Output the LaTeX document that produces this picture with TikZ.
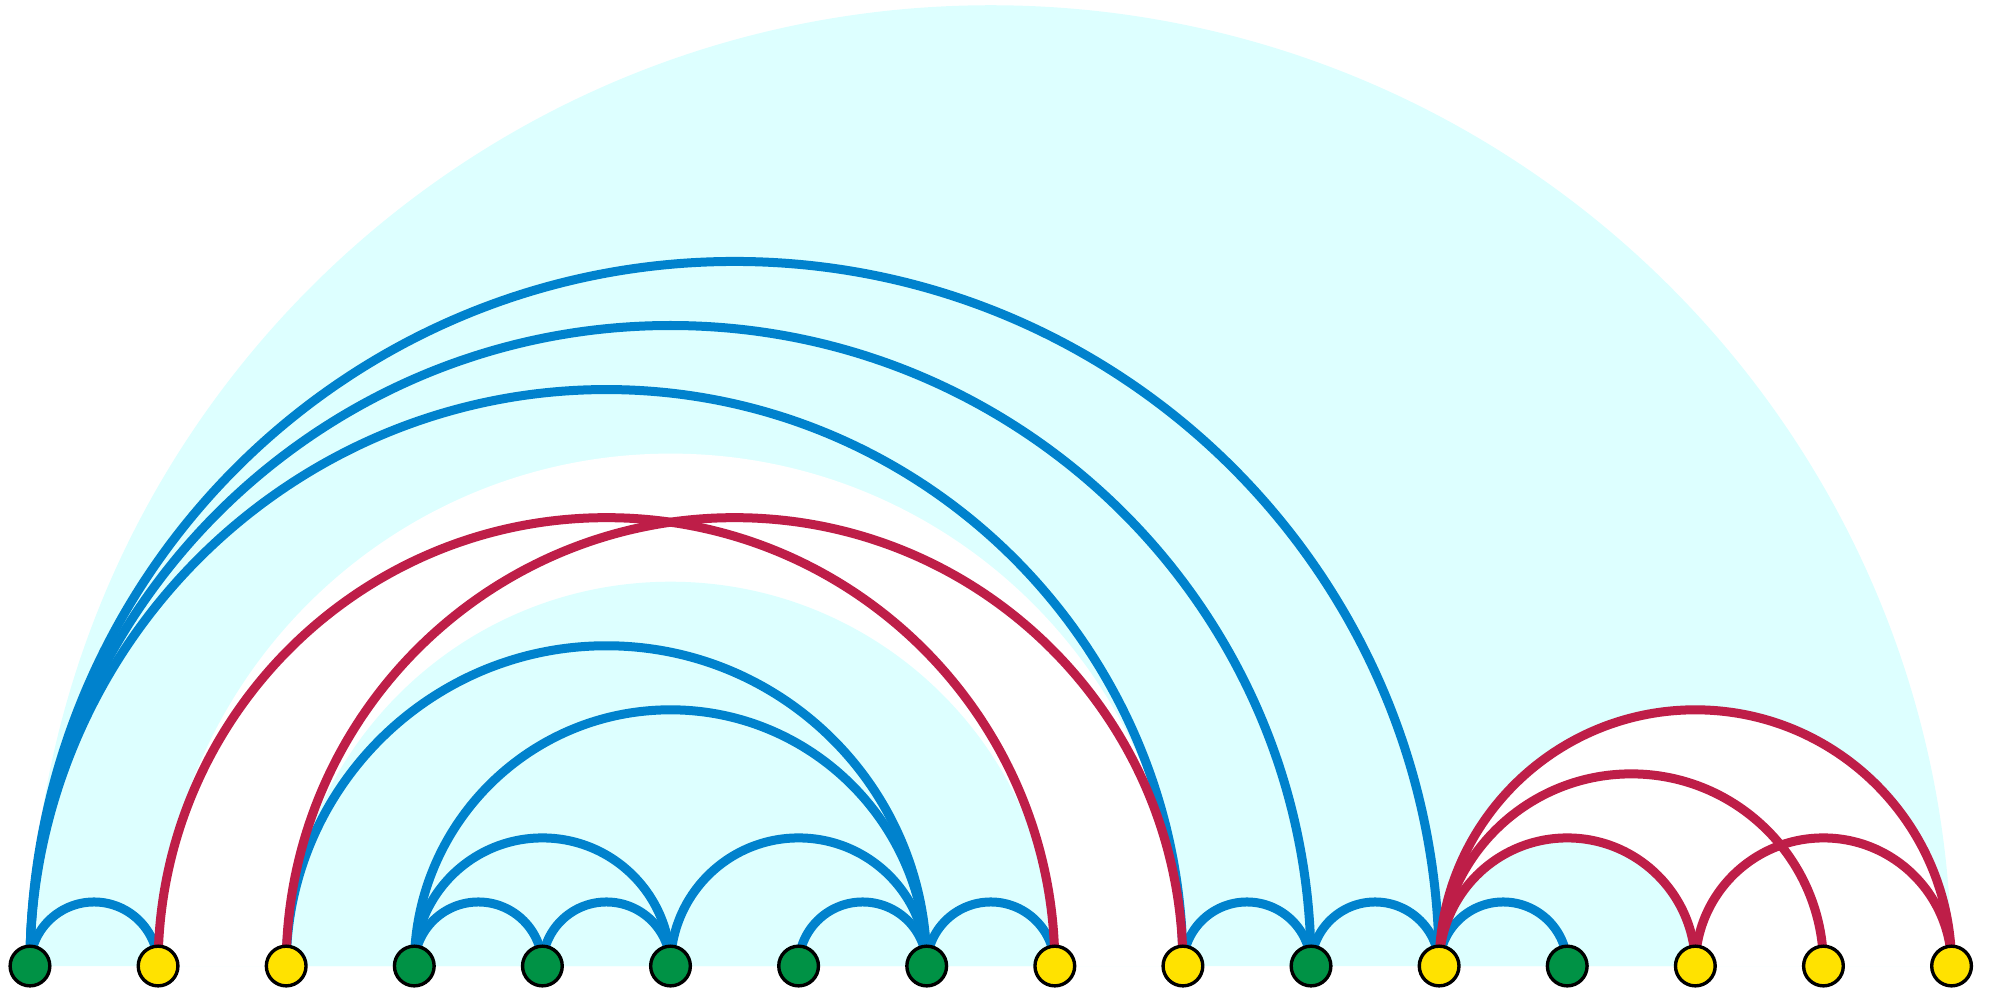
\documentclass[tikz,border=0pt]{standalone}
\usepackage{xcolor}
\usepackage{tikz}
\usetikzlibrary{calc, backgrounds}

\definecolor{bandcyan}{RGB}{221,255,255}
\definecolor{linkblue}{RGB}{0,130,205}
\definecolor{linkred}{RGB}{190,30,72}
\definecolor{siteg}{RGB}{0,146,69}
\definecolor{sitey}{RGB}{255,226,0}

\begin{document}
\begin{tikzpicture}[
    site/.style={draw, circle, minimum size=0.31cm, inner sep=0pt, line width=0.75pt},
    half/.style={to path={let \p1=(\tikztostart), \p2=(\tikztotarget) in
        (\p1) arc[start angle=180, end angle=0, radius={(\x2-\x1)/2}]}},
    bl/.style={linkblue, line width=2pt},
    rd/.style={linkred, line width=2pt},
]
\useasboundingbox (-0.234,-0.211) rectangle (15.308,7.541);

% Sites
\foreach \c [count=\i from 0] in {g,y,y,g,g,g,g,g,y,y,g,y,g,y,y,y}
    \node[site, fill=site\c] (n\i) at (\i,0) {};

\begin{scope}[on background layer]
% Bands
\fill[bandcyan] (n0.center) arc[start angle=180, end angle=0, radius=7.5] -- cycle;
\fill[white] (n1.center) arc[start angle=180, end angle=0, radius=4] -- cycle;
\fill[bandcyan] (n2.center) arc[start angle=180, end angle=0, radius=3] -- cycle;
\fill[white] (n11.center) arc[start angle=180, end angle=0, radius=2] -- cycle;
\fill[bandcyan] (n11.center) arc[start angle=180, end angle=0, radius=1] -- cycle;

% Blue links
\foreach \a/\b in {0/1, 0/9, 0/10, 0/11, 2/7, 3/7, 3/4, 4/5, 3/5, 5/7, 6/7, 7/8, 9/10, 10/11, 11/12}
    \draw[bl] (n\a) to[half] (n\b);

% Red links
\foreach \a/\b in {1/8, 2/9, 11/13, 11/14, 11/15, 13/15}
    \draw[rd] (n\a) to[half] (n\b);
\end{scope}
\end{tikzpicture}
\end{document}
